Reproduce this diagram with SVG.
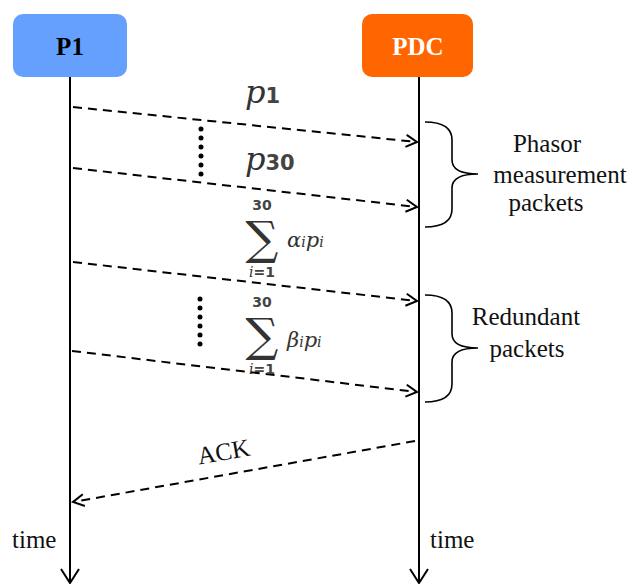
<svg xmlns="http://www.w3.org/2000/svg" width="633" height="584" viewBox="0 0 633 584">
<style>
.lbl{font-family:"Liberation Serif","DejaVu Serif",serif;font-size:25px;fill:#111}
.node{font-family:"Liberation Serif","DejaVu Serif",serif;font-size:25px;font-weight:bold}
.mi{font-family:"DejaVu Serif",serif;font-style:italic;fill:#333}
.mn{font-family:"DejaVu Sans",sans-serif;font-style:normal;font-weight:bold;fill:#444}
.sig{font-family:"DejaVu Serif",serif;font-style:normal;fill:#333}
.msg{stroke:#000;stroke-width:2;stroke-dasharray:9 6;fill:none;marker-end:url(#open)}
.life{stroke:#000;stroke-width:2;fill:none}
.dots{stroke:#000;stroke-width:5;stroke-linecap:round;stroke-dasharray:0 9;fill:none}
.brace{stroke:#000;stroke-width:1.6;fill:none}
</style>
<defs>
<marker id="open" markerWidth="14" markerHeight="14" refX="12" refY="7" orient="auto" markerUnits="userSpaceOnUse">
<path d="M1,1 L12,7 L1,13" fill="none" stroke="#000" stroke-width="2"/>
</marker>
</defs>
<rect width="633" height="584" fill="#fff"/>
<g id="P1">
<rect x="13" y="14" width="114" height="63" rx="10" fill="#66a0ff"/>
<text class="node" x="70" y="55" text-anchor="middle" fill="#000">P1</text>
</g>
<g id="PDC">
<rect x="362" y="14" width="111" height="63" rx="10" fill="#ff6600"/>
<text class="node" x="418" y="55" text-anchor="middle" fill="#fff">PDC</text>
</g>
<g id="connectors">
<line class="life" x1="70" y1="77" x2="70" y2="583"/>
<polyline class="life" points="61,569 70,583 79,569"/>
<line class="life" x1="419" y1="77" x2="419" y2="583"/>
<polyline class="life" points="410,569 419,583 428,569"/>
<line class="msg" x1="73" y1="107" x2="417" y2="142"/>
<line class="msg" x1="73" y1="168" x2="417" y2="207"/>
<line class="msg" x1="73" y1="262" x2="417" y2="301"/>
<line class="msg" x1="72" y1="351" x2="417" y2="392"/>
<line class="msg" x1="415" y1="441" x2="73" y2="502"/>
<line class="dots" x1="201" y1="129" x2="201" y2="176"/>
<line class="dots" x1="200" y1="299" x2="200" y2="346"/>
<path class="brace" d="M425,122 Q452,122 452,140 L452,160 Q452,174 478,174 Q452,174 452,188 L452,209 Q452,227 425,227"/>
<path class="brace" d="M425,295 Q452,295 452,313 L452,334 Q452,348 478,348 Q452,348 452,362 L452,384 Q452,402 425,402"/>
</g>
<g id="labels">
<text class="mi" x="245" y="103" font-size="32">p<tspan class="mn" font-size="21">1</tspan></text>
<text class="mi" x="245" y="170" font-size="32">p<tspan class="mn" font-size="21">30</tspan></text>
<text class="mn" x="262" y="210" font-size="14" text-anchor="middle">30</text>
<text class="sig" x="262" y="254" font-size="46" text-anchor="middle">∑</text>
<text class="mi" x="262" y="277" font-size="14" text-anchor="middle">i<tspan class="mn">=1</tspan></text>
<text class="mi" x="287" y="247" font-size="21">α<tspan font-size="14">i</tspan>p<tspan font-size="14">i</tspan></text>
<text class="mn" x="262" y="307" font-size="14" text-anchor="middle">30</text>
<text class="sig" x="262" y="351" font-size="46" text-anchor="middle">∑</text>
<text class="mi" x="262" y="374" font-size="14" text-anchor="middle">i<tspan class="mn">=1</tspan></text>
<text class="mi" x="287" y="347" font-size="21">β<tspan font-size="14">i</tspan>p<tspan font-size="14">i</tspan></text>
<text class="lbl" x="547" y="152" text-anchor="middle">Phasor</text>
<text class="lbl" x="560" y="183" text-anchor="middle">measurement</text>
<text class="lbl" x="546" y="211" text-anchor="middle">packets</text>
<text class="lbl" x="526" y="325" text-anchor="middle">Redundant</text>
<text class="lbl" x="527" y="357" text-anchor="middle">packets</text>
<text class="lbl" x="225" y="460" text-anchor="middle" transform="rotate(-10 225 460)">ACK</text>
<text class="lbl" x="12" y="548">time</text>
<text class="lbl" x="430" y="548">time</text>
</g>
</svg>
